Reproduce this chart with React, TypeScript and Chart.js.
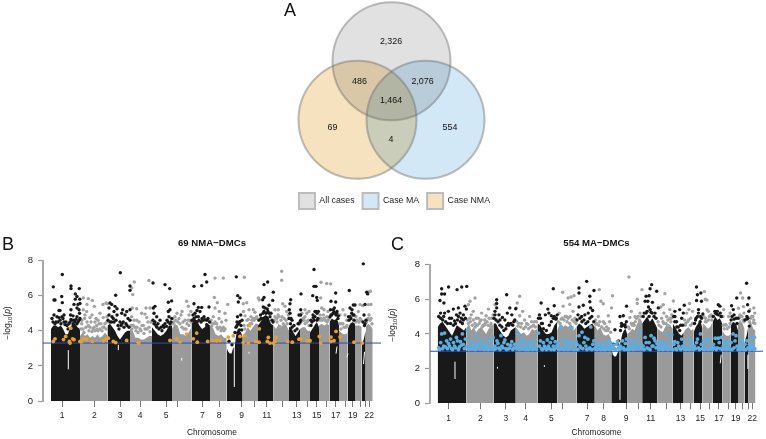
import React, { useEffect, useRef } from "react";
import { Chart, registerables } from "chart.js";

Chart.register(...registerables);

const FONT = "'Liberation Sans', Arial, sans-serif";

// ---------- Venn (panel A) ----------
const vennSets = ["All cases", "Case MA", "Case NMA"];
const vennCentreX = [391.5, 425.5, 357.5];
const vennCentreY = [62, 121, 121];
const vennFills = ["#e1e1e1", "#d2e8f7", "#f6e2bf"];
const vennCounts = ["2,326", "486", "2,076", "1,464", "69", "554", "4"];
const vennCountX = [391, 359.5, 422.5, 391, 332.5, 450, 391];
const vennCountY = [42.5, 82, 82, 102, 129, 129, 141.5];

// ---------- Manhattan shared ----------
const chromStarts = [0, 29, 56.5, 79, 101, 121, 140.5, 159, 175.7, 191.7, 207, 222.5, 238, 249, 259, 268, 278.5, 288, 296.7, 304, 310.7, 314.7, 321.7];
const chromTicks = [11, 43.3, 69, 89, 115, 126.3, 151.3, 168, 190.7, 203, 215.7, 231.7, 245.7, 256.3, 265.7, 275, 284.7, 294, 301.7, 309, 314.7, 318.3];
const chromLabels = ["1", "2", "3", "4", "5", "", "7", "8", "9", "", "11", "", "13", "", "15", "", "17", "", "19", "", "", "22"];

// ---------- Panel B ----------
const bThreshold = 3.3;
const bEnvelope = [
  [4.1, 4.3, 4.3, 4.2, 4.3, 4.1, 3.8, 3.8, 4.2, 4.4, 4.4, 4.2, 4.1],
  [3.7, 3.9, 3.7, 3.8, 3.6, 3.7, 3.6, 3.8, 3.6, 3.7, 3.9, 3.7],
  [4.3, 4.4, 4.2, 4.0, 3.7, 3.5, 3.7, 3.9, 4.0, 4.0],
  [4.1, 4.0, 3.6, 3.6, 3.5, 3.5, 3.6, 3.7, 3.7],
  [4.2, 4.0, 3.8, 3.7, 3.8, 4.0, 4.3, 4.3],
  [4.1, 4.4, 4.3, 3.8, 3.8, 3.7, 3.9, 4.2],
  [4.4, 4.7, 4.6, 4.3, 4.1, 4.2, 4.4, 4.3],
  [4.3, 4.2, 3.8, 3.7, 3.8, 3.6, 3.6],
  [3.0, 2.8, 2.7, 2.7, 3.0, 3.1, 3.8, 4.1, 4.0, 3.9, 3.6],
  [3.7, 3.9, 4.2, 4.0, 4.2, 4.4, 4.4],
  [4.3, 4.5, 4.8, 4.9, 4.8, 4.4, 4.3],
  [4.3, 4.1, 4.4, 4.2, 4.4, 4.3, 4.0],
  [4.2, 4.2, 3.9, 3.7, 3.9, 4.1],
  [4.1, 4.2, 4.2, 4.0, 4.0],
  [3.9, 4.1, 4.3, 4.5, 4.2],
  [4.3, 4.4, 4.3, 4.4, 4.3],
  [4.5, 4.7, 4.6, 4.7, 4.4],
  [4.0, 3.9, 3.8, 3.8, 3.9],
  [4.1, 4.4, 4.5, 4.4],
  [4.3, 4.3, 4.3, 4.2],
  [3.2, 3.5, 4.0],
  [4.2, 4.4, 4.3, 4.1],
];
const bBlackDots = [
  2.3,6.5, 11.3,7.2, 3,5.75, 4,5.75, 10.7,5.95, 11.3,5.6, 20,6.55, 20,6.4, 28.3,6.4, 24.3,6.1, 26,5.95, 28.8,5.8, 24.3,5.8, 23,5.5, 29,5.55, 27,5.5, 28,5.2, 26,5.3, 8,5.15, 9,5.15, 6,4.8, 8,4.75, 11,4.8, 20,5.2, 19.5,4.9, 22,4.85, 23,4.6, 25,4.65, 28.5,5, 5,4.5, 13,4.5, 16,4.3, 22,4.4, 2,4.5, 17,4.1, 14,4.35, 20,4.65, 26,4.8, 27,4.5,
  69.3,7.3, 64.7,6.02, 59,5.58, 64,5.39, 60.7,5.5, 66,5.25, 71.7,5.2, 75.7,5.1, 79,5.2, 70.7,5, 66,4.9, 62.3,4.7, 60.7,4.5, 79,4.6, 72.3,4.5, 75,4.4, 69,4.5, 63,5.1, 58,5.3, 74,4.9, 77,4.7, 79,6.55, 79,6.3,
  102,6.72, 114,6.63, 118.7,6.4, 120.6,5.7, 117.3,5.62, 104,5.39, 102.3,5.3, 119,5.2, 117.3,5.1, 105.7,4.8, 109,4.6, 120.7,4.7, 104,4.5, 112.3,4.3, 115.7,4.25, 107,4.4, 103,5, 118,4.8, 110,4.2,
  143,6.53, 154,7.2, 150.7,6.57, 155.7,6.78, 143,5.54, 158,5.35, 147.3,5.33, 150.7,5.33, 144,5, 154,4.63, 149,5.1, 147.3,4.8, 155.7,4.34, 158.6,4.5, 142,4.9, 152,4.6, 146,5.15,
  185.3,7.07, 186.7,6, 189,5.87, 187.3,5.64, 189.7,4.9, 189,4.53, 187.3,4.44, 188.3,4.05, 190.7,4.05, 186,4.3, 184,3.9, 178,3.4, 181,3.2, 186.5,4.8, 191,4.6,
  213,6.63, 216.7,6.78, 222.3,6.2, 213,5.9, 211.7,5.77, 221.7,5.73, 212.3,5.35, 216.3,5.24, 215,5, 218,5.45, 209.5,4.9, 220,5, 211,4.7,
  250,6.1, 239.7,5.77, 239,5.54, 238.3,5.2, 239,5, 249.7,5.2, 249.7,4.9, 249.7,4.6, 241,4.6, 243,4.3, 247,4.4, 240,4.7, 248,4.9,
  263,7.49, 263,6.53, 265,6.53, 261.7,6, 265.7,5.9, 266.3,5.73, 265,5.1, 267.3,5.1, 262.3,4.75, 264,4.8, 260,4.3, 266,4.6, 261,4.5,
  284.7,6.15, 280,5.68, 284.7,5.64, 282.3,5.2, 283.3,5.3, 285.7,5, 280.7,4.9, 287.3,4.85, 279.5,5.2, 283,5.05,
  298.3,6.29, 302.3,5.47, 304,5.47, 299,5.3, 300.7,5, 297.5,4.8, 303,4.9, 301,5.2,
  312.3,7.81, 315.7,6.19, 316.7,6.1, 314,5.5, 313,4.9, 315,4.6, 313.5,4.3,
];
const bBlackStipple = [
  1,4.7, 3,4.9, 4,4.4, 7,4.5, 9,4.6, 10,4.4, 12,4.7, 13,4.9, 15,4.5, 18,4.4, 19,4.5, 21,4.6, 24,4.5, 26,4.4, 28,4.6, 29,4.7,
  57,4.6, 58,4.9, 59,4.5, 61,4.8, 63,4.5, 65,4.6, 67,4.3, 68,4.1, 70,4.3, 71,4.4, 73,4.2, 76,4.3, 78,4.2,
  102,4.6, 103,4.4, 105,4.3, 106,4.2, 108,4.1, 111,4, 113,4.2, 114,4.4, 116,4.6, 117,4.5, 119,4.4, 120,4.5,
  141,4.6, 143,4.7, 145,4.8, 146,4.5, 148,4.6, 150,4.5, 151,4.7, 153,4.8, 156,4.6, 157,4.7,
  185,4.2, 186,4.5, 188,4.4, 190,4.3, 187,3.9,
  208,4.6, 210,4.7, 212,5, 213,5.1, 214,5.3, 217,5.1, 218,5, 219,4.8, 221,4.6, 222,4.5,
  238,4.7, 239.5,4.4, 241,4.2, 244,4, 246,4.1, 248,4.4, 249,4.5,
  260,4.6, 262,4.9, 263,4.6, 264,5.1, 266,5, 267,4.7,
  279,4.8, 280,4.9, 282,5, 284,5, 285,4.9, 286,5.1, 287,4.7,
  298,4.6, 299,4.8, 300,4.7, 302,4.9, 303,4.6,
  312,4.5, 314,4.4,
];
const bGrayDots = [
  32.3,5.87, 37.3,5.83, 41.3,5.73, 32.3,5.2, 43.3,5.39, 55,5.58, 56.3,5.54, 35.7,5.1, 49,5, 33.7,4.7, 39,4.75, 44,4.5, 52.3,4.75, 45.7,4.3, 49,4.1, 55.7,4.5, 37.3,4.3, 42,4.1, 30.7,4.4, 34,4.9, 47,4.6, 53,4.2, 41,4.9, 36,5.5, 52,5.5,
  80.7,6.44, 83.3,6.78, 81.7,6.06, 81.3,5.3, 85.7,5.25, 90.7,5, 80.7,4.8, 95.7,4.75, 85.7,4.6, 92.3,4.3, 82.3,4.3, 89,4.1, 98,6.86, 95,5.3, 99,5.3, 94,4.95, 97,4.5, 84,4.2,
  135.7,5.68, 137.3,5.4, 138,4.9, 131,5.1, 124,4.8, 128,4.7, 134,4.6, 140,5.1, 122,4.4, 126,5, 130,4.9, 136,4.4,
  164,7, 172.3,7, 163.3,5.9, 166.3,5.6, 176.7,5.5, 168.3,5.1, 164,5.3, 174,5, 162.3,4.8, 170.7,4.5, 165.7,4.4, 160.7,4.25, 172.3,4.2, 168,4.7, 175,4.6,
  193.3,7.05, 195.7,5.6, 192.3,5.54, 202.3,5.2, 207.3,5.87, 208.3,5.75, 194,4.85, 197.3,4.65, 204,5.05, 205.7,4.8, 200.7,4.4, 198,5.2, 192.5,5.1, 202,4.7,
  230.7,7.39, 230.7,6.88, 231.7,5.54, 227.3,5.2, 224,5.2, 225.7,4.7, 235.7,5.1, 237.3,4.9, 232.3,4.4, 229,4.25, 227,4.9, 234,5.4,
  254,5.2, 255.7,5, 252.3,4.7, 257.3,4.6, 254,4.4, 251,5, 258,5.1,
  269.7,5.87, 270,6.76, 275.7,6.69, 279.7,6.67, 270.7,5.3, 272.3,4.9, 275.7,4.8, 269,4.6, 277,5.1, 273,5.2,
  294,4.9, 290.7,4.4, 295.7,4.6, 289,4.9, 292,5.2,
  309,5.49, 311.7,5.43, 307.3,5.1, 305,4.8, 309,4.7,
  319.3,6.25, 317,6.2, 317.3,5.49, 320,5.5, 318,4.9, 320,4.7,
];
const bGrayStipple = [
  30,4.1, 31,4.6, 32,4.1, 33,3.9, 35,4.2, 36,4.5, 38,4, 39,4.2, 40,4.5, 41,3.95, 43,4.2, 44,4, 45,4.7, 46,4.1, 47,4, 48,4.4, 50,4.4, 51,4, 52,4.2, 54,4.4, 55,4.1, 56,4.8,
  80,4.3, 81,4.1, 83,4.6, 85,4, 86,4.2, 87,3.9, 88,4.5, 90,4, 91,4.3, 93,3.85, 94,4.1, 96,4.1, 98,4.2, 99,3.95, 100,4.5,
  122,4.7, 123,4.5, 125,4.6, 127,4.5, 129,4.4, 131,4.2, 132,4.5, 133,4.1, 135,4.1, 137,4.6, 138,4.3, 139,4.6, 140,4.5,
  160,4.6, 161,4.4, 163,4.4, 164,4.5, 166,4.2, 167,4.1, 169,4.2, 170,4, 171,4.1, 173,4, 174,4.1,
  193,4.3, 194,4.1, 196,4.6, 197,4.3, 199,4.4, 200,4.8, 201,4.6, 203,4.6, 204,4.7, 206,4.7,
  223,4.6, 224,4.8, 226,4.5, 228,4.8, 230,4.6, 231,4.8, 233,4.7, 235,4.6, 236,4.4,
  250,4.5, 251,4.6, 253,4.6, 254,4.8, 256,4.5, 258,4.3,
  269,4.9, 270,4.7, 271,4.6, 273,4.7, 274,4.6, 276,4.5, 277,4.6, 278,4.7,
  289,4.4, 290,4.1, 292,4.4, 293,4.2, 295,4.2, 296,4.3,
  305,4.5, 306,4.6, 308,4.5, 310,4.6,
  315.5,4.5, 317,4.7, 319,4.6, 321,4.4,
];
const bHitDots = [
  4,3.54, 2.3,3.39, 14.7,3.68, 12.5,3.5, 19.7,4.15, 18.3,3.39, 19,3.3, 21.7,3.54, 23,3.49, 29,3.39, 30.5,3.37, 32.3,3.54, 35.7,3.52, 41.3,3.39, 52.3,3.43, 55,3.52, 57.3,3.58, 62.3,3.39, 64.7,3.33, 75.7,3.45, 87.3,3.33, 88,3.3, 119,3.45,
  125.7,3.54, 129,3.37, 135.7,3.81, 142.3,3.54, 145.7,3.87, 146.3,3.35, 156.7,3.39, 161.7,3.45, 165.7,3.43, 169,3.45, 177.3,3.64, 182.3,3.71, 189,3.68, 193.3,3.71, 192.3,3.33, 197.3,3.3, 198.3,4.29, 204.7,3.39, 208,3.35, 208.3,4.11, 217.3,3.62, 216.3,3.39, 219,3.3, 222.3,3.3, 224,3.39, 225,3.62,
  236.7,3.39, 241.3,3.35, 248,3.52, 250,3.54, 256.3,3.43, 259,3.43, 268.3,3.68, 269.7,3.3, 280,3.64, 280,3.39, 283,3.43, 285,3.96, 289,3.64, 303,3.35, 311.3,3.3,
];
const bGaps = [17.3, 1.8, 17.3, 2.9, null, null, 67.3, 2.9, 67.3, 3.2, null, null, 183.3, 0.8, 183.3, 3.3, null, null, 312.5, 2.1, 313.5, 2.8, null, null, 130.7, 2.3, 130.7, 2.45, null, null, 198, 2.7, 198, 2.8, null, null, 285, 2.7, 286, 3.1, null, null, 296, 2.5, 297, 2.7];

// ---------- Panel C ----------
const cThreshold = 3;
const cEnvelope = [
  [4.4, 4.6, 4.7, 4.5, 4.3, 4.1, 3.9, 4.2, 4.5, 4.4, 4.3, 4.2, 4.4],
  [4.3, 4.6, 4.2, 4.4, 4.1, 4.3, 4.4, 4.2, 4.0, 4.3, 4.4, 4.6],
  [4.6, 4.6, 4.3, 4.1, 3.9, 3.8, 3.9, 4.2, 4.3, 4.4],
  [4.4, 4.2, 4.0, 4.1, 3.9, 4.0, 4.3, 4.2, 4.3],
  [4.6, 4.5, 4.2, 4.0, 4.0, 4.1, 4.5, 4.7],
  [4.2, 4.6, 4.4, 4.5, 4.4, 4.6, 4.2, 4.4],
  [4.4, 4.6, 4.5, 4.3, 4.4, 4.5, 4.6, 4.4],
  [4.5, 4.2, 4.4, 4.0, 3.9, 4.0, 3.7],
  [3.2, 2.8, 2.7, 2.7, 2.9, 3.1, 3.6, 4.0, 4.2, 4.3, 4.0],
  [4.0, 4.1, 4.3, 4.2, 4.6, 4.8, 4.6],
  [4.6, 4.8, 5.0, 4.7, 4.9, 4.6, 4.3],
  [4.3, 4.2, 4.1, 4.4, 4.6, 4.5, 4.3],
  [4.6, 4.4, 4.2, 4.0, 3.9, 4.1],
  [4.1, 4.3, 4.4, 4.2, 4.3],
  [4.1, 4.4, 4.6, 4.8, 4.3],
  [4.6, 4.5, 4.3, 4.4, 4.7],
  [4.7, 5.0, 4.8, 4.9, 4.6],
  [4.2, 4.0, 3.9, 3.9, 4.0],
  [4.5, 4.7, 4.6, 4.2],
  [4.6, 4.8, 4.6, 4.3],
  [3.5, 3.9, 4.5],
  [4.6, 4.7, 4.3, 4.2],
];
const cBlackDots = [
  4,6.6, 11,6.7, 19.6,6.55, 24.3,6.7, 29.4,6.74, 4,6.3, 7,6.3, 2.3,5.93, 6.3,5.78, 10.8,5.3, 15.8,5.43, 20.9,5.5, 27.6,5.6, 29,5.43, 2.9,5.2, 7,5.2, 22.6,5.2, 19,5.1, 26,5.1, 12,4.9, 17,4.75, 24,4.9,
  69.8,6.26, 59.7,5.97, 59.7,5.75, 59.7,5.5, 58,5.3, 63,4.8, 73,5.5, 70.5,5.2, 75,5.1, 79,5.45, 65.5,4.95, 71.5,4.6, 77,4.7, 62,5.1, 68,4.8,
  117,6.6, 104.7,5.78, 111.5,5.43, 118,5.62, 104,4.9, 109,5.1, 121,5.1, 112.5,5.2, 106,4.6, 119.5,4.85, 115,5.05,
  150.8,7.03, 143,6.65, 143,6.36, 158.2,6.5, 154,6.17, 154,5.85, 147.4,5.65, 143,5.55, 154.8,5.5, 152.4,5.2, 145.7,5, 156.8,5.35, 149,5.1,
  191.2,5.6, 187.9,5.05, 184.5,5, 189.6,4.53, 186,4.44, 179.4,4.24, 183,3.6, 178,3.4,
  216.6,6.84, 215,6.6, 221.7,6.46, 214,6.2, 211,6.17, 210,5.88, 212.7,5.88, 217.4,5.82, 223.3,5.5, 213.4,5.55, 216,5.25, 220,5.2,
  249.6,5.65, 240.1,5.3, 245,5.4, 248.6,5.2, 240.1,5, 241.8,4.7, 247,4.9, 243.5,4.4,
  262,6.7, 262.9,6.26, 266.4,6.36, 262,5.93, 267,5.88, 264,5.4, 268.4,5.15, 261.5,4.9, 265.7,4.7,
  284,5.68, 285.7,5.6, 280.6,5.3, 282.3,5.15, 287,5, 280.6,4.7, 285.7,4.45,
  302.7,6.07, 297.5,5.62, 299.2,5.4, 304,4.9, 300,4.85, 300.9,4.45,
  312.7,6.92, 315,6.07, 313.7,5.68, 315,5.3, 312.7,4.85, 315.4,4.45,
];
const cBlackStipple = [
  1,5, 3,4.9, 5,4.8, 6,5, 8,4.7, 10,4.6, 13,4.6, 14,4.9, 16,4.5, 18,4.6, 20,4.8, 21,5, 23,4.7, 25,4.6, 26,4.8, 28,4.9,
  57,4.9, 58,5.1, 59,4.8, 61,4.7, 63,4.5, 65,4.4, 67,4.2, 69,4.3, 70,4.5, 72,4.5, 74,4.6, 76,4.5, 78,4.8,
  102,4.9, 103,5.1, 105,4.6, 107,4.3, 110,4.2, 113,4.5, 115,4.7, 117,4.9, 118,5, 120,4.9,
  141,4.8, 142,5.1, 144,4.9, 146,4.7, 148,4.8, 150,4.6, 152,4.7, 154,4.9, 156,5, 158,4.7,
  182,3.4, 185,4.2, 186,4.6, 188,4.5, 190,4.4, 191,4.7,
  208,5, 209,5.2, 211,5.2, 212,5.3, 214,5, 215,5.4, 217,5.2, 219,5, 221,4.9,
  239,5, 240,4.7, 242,4.4, 245,4.2, 246,4.5, 248,4.5,
  260,4.6, 261,4.8, 263,5, 264,5.2, 266,5, 267,4.9,
  279,5, 281,5.2, 283,5.3, 284,5.1, 286,5.2, 287,5,
  297,4.8, 298,5, 300,5.1, 302,4.9, 303,4.6,
  311,4.8, 313,5, 314,4.9,
];
const cGrayDots = [
  37.8,6.07, 32.7,5.88, 31,5.68, 36,5.3, 44.5,5.2, 51.3,5.43, 58,5.68, 41,4.9, 47.6,4.8, 54.4,4.9, 32.7,4.9, 37.8,4.6, 46,4.5, 53,4.45, 43,4.75, 56,5.1, 34,5.1, 49,5.05,
  83,6.17, 80.5,5.78, 79.6,5.5, 83,5.05, 88,4.8, 81.2,4.45, 91.3,4.55, 96.3,4.45, 86,5.3, 93,5, 98,4.7,
  126.5,6.4, 135,6.13, 132,6.07, 138,6.2, 127,5.6, 133.7,5.7, 130.3,5, 137,5.3, 125,4.85, 133.7,4.6, 123,5.2, 139,4.9,
  163.6,6.55, 177,6.2, 165.3,5.88, 167.6,5.74, 176,5.5, 172.7,5.05, 162.6,5, 167.6,4.7, 160,4.55, 171,4.4, 174,4.7,
  193.6,7.28, 199.8,5, 202,6, 202,5.75, 206.8,6.55, 194.6,4.95, 204.8,5.2, 198,4.6, 196,5.3, 205,4.7,
  230,6.32, 238.5,5.9, 228.3,5.68, 226,5.55, 231.7,5, 235,5.4, 226.7,4.9, 233.4,4.45, 229,5.2, 236.5,4.9,
  254.3,5.4, 252,5.2, 256,4.9, 250.6,4.5, 258,5.3, 255,5.75,
  270,6.44, 270.9,6, 272.6,5.95, 272.6,5.4, 276,5.05, 270.9,4.7, 277.4,4.8, 274,5.3,
  289.5,5.4, 294.5,5, 291,4.55, 296,5.2, 288.7,5,
  306.6,6.36, 308.7,6.07, 304.5,5.48, 309.5,5.57, 306,5, 310,5.2,
  320,5.5, 316,5.4, 317.6,5, 319.3,4.65, 321,5.2,
];
const cGrayStipple = [
  30,4.8, 31,4.6, 33,4.7, 35,4.5, 36,4.8, 38,4.4, 39,4.9, 40,4.5, 42,4.6, 44,4.8, 45,4.4, 47,4.5, 48,4.6, 50,4.7, 51,4.5, 52,4.9, 54,4.6, 55,4.4, 56,4.9,
  80,4.7, 82,4.6, 84,4.4, 85,4.6, 87,4.3, 89,4.4, 90,4.6, 92,4.3, 94,4.4, 95,4.7, 97,4.5, 99,4.4, 100,4.7,
  122,4.7, 124,4.6, 126,4.9, 128,4.8, 129,5, 131,4.7, 132,4.9, 134,5, 136,4.8, 138,4.7, 140,4.6,
  160,4.8, 161,4.6, 163,4.5, 164,4.7, 166,4.4, 168,4.3, 169,4.6, 170,4.2, 172,4.2, 173,4.3, 175,4.1,
  193,4.4, 194,4.3, 196,4.6, 197,4.5, 199,4.5, 200,4.7, 201,4.9, 203,5, 204,4.8, 206,5,
  223,4.7, 224,4.5, 226,4.4, 228,4.7, 229,4.6, 231,4.6, 233,4.8, 235,4.9, 236,4.7, 237,5.1,
  250,4.8, 251,4.6, 253,4.7, 254,4.8, 256,4.5, 258,4.6,
  269,5, 271,4.9, 272,4.7, 274,4.8, 275,5, 277,5.1, 278,5,
  289,4.5, 290,4.3, 292,4.5, 293,4.3, 295,4.4, 296,4.6,
  305,4.9, 306,5.1, 308,5, 309,4.8, 310,4.7,
  315.5,4.7, 317,4.9, 319,5, 320,4.8, 321,4.6,
];
const cHitDots = [
  1,3.2, 3,3.5, 4,4, 6,3.3, 7,4.05, 9,3.6, 10,3.15, 12,3.3, 14,3.15, 16,3.5, 18,3.2, 20,3.6, 22,3.25, 24,3.35, 25,4, 27,3.15, 28,3.7, 29,3.25,
  30,4.2, 31,3.2, 33,3.5, 35,3.15, 37,3.35, 39,3.9, 40,3.2, 42,3.6, 44,3.2, 46,3.4, 48,3.15, 50,3.7, 52,3.3, 54,3.5, 55,3.15, 56,3.8,
  58,3.3, 60,3.6, 62,3.2, 64,3.9, 65,3.3, 67,3.5, 69,3.15, 71,3.4, 73,3.2, 75,3.55, 77,3.2, 78,3.4,
  81,4, 82,3.3, 84,3.5, 86,3.15, 88,3.3, 91,3.2, 93,3.5, 95,3.15, 97,3.4, 99,3.2,
  102,4.05, 103,3.3, 105,3.15, 107,3.5, 109,3.2, 112,3.3, 114,3.5, 116,3.75, 117,3.3, 119,3.55, 120,3.2,
  122,3.5, 124,3.2, 125,4.4, 127,3.7, 129,3.3, 131,3.5, 133,3.2, 135,3.3, 136,4.35, 137,3.5, 139,3.2,
  141,3.4, 143,3.9, 145,3.2, 146,4.1, 148,3.5, 150,3.3, 152,3.7, 154,3.2, 155,4.4, 157,3.4, 158,3.6,
  160,3.2, 162,3.35, 164,3.15, 166,3.3, 169,3.45, 171,3.2, 173,3.3, 175,3.5,
  177,3.3, 179,3.15, 181,3.4, 183,3.2, 185,3.3, 187,3.6, 188,3.2, 190,3.45, 191,3.7,
  193,3.25, 195,3.5, 197,3.2, 199,3.3, 201,3.15, 203,3.7, 205,4.1, 206,3.4,
  208,3.3, 210,3.8, 212,3.2, 214,3.5, 216,3.9, 218,3.3, 220,3.6, 221,3.2,
  223,3.4, 225,3.15, 227,3.3, 229,3.5, 231,3.2, 232,4, 234,3.3, 236,3.15, 237,3.95,
  239,3.4, 241,3.15, 243,3.5, 245,3.2, 247,3.7, 248,3.3,
  250,3.5, 252,3.2, 254,3.7, 256,3.35, 258,3.15,
  260,3.3, 262,3.5, 264,3.2, 266,4, 267,3.4,
  269,3.6, 271,3.2, 273,3.45, 275,3.7, 277,3.2,
  279,3.4, 281,3.75, 283,3.2, 285,3.5, 287,3.8,
  289,3.3, 291,3.15, 293,3.4, 295,3.2,
  297,3.5, 299,4, 301,3.6, 302,3.9, 303,3.3,
  305,3.3, 307,3.5, 309,3.2,
  311,3.4, 313,3.6, 314,3.2,
  315.5,3.4, 317,3.7, 319,3.3, 320.5,3.8, 321,3.15,
];
const cHitDotsLow = [
  2,3.1, 5,3.15, 8,3.25, 11,3.45, 13,3.7, 15,3.1, 17,3.3, 19,3.8, 21,3.1, 23,3.55, 26,3.4, 32,3.1, 34,3.6, 36,3.25, 38,3.1, 41,3.4, 43,3.15, 45,3.55, 47,3.1, 49,3.3, 51,3.1, 53,3.15, 57,3.1, 59,3.15, 61,3.45, 63,3.1, 66,3.2, 68,3.65, 70,3.1, 72,3.15, 74,3.35, 76,3.1, 80,3.2, 83,3.1, 85,3.7, 87,3.45, 89,3.1, 90,3.6, 92,3.1, 94,3.3, 96,3.1, 98,3.55, 100,3.1,
  104,3.6, 106,3.1, 108,3.3, 110,3.1, 111,3.65, 113,3.15, 115,3.1, 118,3.1, 121,3.35, 123,3.1, 126,3.15, 128,3.1, 130,3.6, 132,3.1, 134,3.55, 138,3.1, 140,3.55, 142,3.1, 144,3.3, 147,3.15, 149,3.8, 151,3.1, 153,3.15, 156,3.1, 159,3.15, 161,3.1, 163,3.5, 165,3.1, 167,3.2, 168,3.1, 170,3.1, 172,3.55, 174,3.1, 176,3.15, 178,3.35, 180,3.1, 182,3.55, 184,3.1, 186,3.15, 189,3.1,
  192,3.1, 194,3.1, 196,3.65, 198,3.1, 200,3.5, 202,3.3, 204,3.15, 207,3.15, 209,3.1, 211,3.5, 213,3.15, 215,3.1, 217,3.3, 219,3.75, 222,3.45, 224,3.1, 226,3.5, 228,3.1, 230,3.3, 233,3.1, 235,3.6, 238,3.1, 240,3.55, 242,3.1, 244,3.3, 246,3.1, 249,3.15, 251,3.1, 253,3.15, 255,3.1, 257,3.55, 259,3.1, 261,3.15, 263,3.7, 265,3.1, 268,3.15, 270,3.1, 272,3.7, 274,3.1, 276,3.15, 278,3.1,
  280,3.2, 282,3.1, 284,3.75, 286,3.15, 288,3.1, 290,3.55, 292,3.1, 294,3.6, 296,3.1, 298,3.1, 300,3.2, 304,3.1, 306,3.1, 308,3.65, 310,3.1, 312,3.1, 316,3.1, 318,3.2, 320,3.1,
];
const cGaps = [17.5, 1.4, 17.5, 2.4, null, null, 60.5, 2, 60.5, 2.1, null, null, 184.5, 0.2, 184.5, 3, null, null, 313.5, 2, 314, 2.8, null, null, 108, 2.1, 108, 2.2, null, null, 286, 2.3, 287, 2.8];

const pairs = (flat: (number | null)[]) => {
  const out: { x: number | null; y: number | null }[] = [];
  for (let i = 0; i < flat.length; i += 2) out.push({ x: flat[i], y: flat[i + 1] });
  return out;
};

const BLACK = "#191919";
const GRAY = "#9a9a9a";
const OUTLINE = "rgba(110,110,110,0.45)";

function buildVenn(canvas: HTMLCanvasElement) {
  const multiply = {
    id: "multiply",
    beforeDatasetDraw(chart: any, args: any) {
      chart.ctx.save();
      if (args.index < 3) chart.ctx.globalCompositeOperation = "multiply";
    },
    afterDatasetDraw(chart: any) {
      chart.ctx.restore();
    },
    afterDatasetsDraw(chart: any) {
      const { ctx, scales } = chart;
      ctx.save();
      ctx.fillStyle = "#111";
      ctx.font = `8.9px ${FONT}`;
      ctx.textAlign = "center";
      ctx.textBaseline = "middle";
      vennCounts.forEach((t, i) => ctx.fillText(t, scales.x.getPixelForValue(vennCountX[i]), scales.y.getPixelForValue(vennCountY[i])));
      ctx.font = `18px ${FONT}`;
      ctx.textAlign = "left";
      ctx.fillText("A", 284, 11);
      ctx.restore();
    },
  };
  const fills = vennSets.map((label, i) => ({
    label,
    data: [{ x: vennCentreX[i], y: vennCentreY[i], r: 59 }],
    backgroundColor: vennFills[i],
    borderWidth: 0,
    order: 2,
  }));
  const outlines = vennSets.map((_label, i) => ({
    label: "",
    data: [{ x: vennCentreX[i], y: vennCentreY[i], r: 59 }],
    backgroundColor: "rgba(0,0,0,0)",
    borderColor: OUTLINE,
    borderWidth: 2,
    order: 1,
  }));
  return new Chart(canvas, {
    type: "bubble",
    data: { datasets: [...fills, ...outlines] },
    options: {
      responsive: false,
      animation: false,
      events: [],
      layout: { padding: { left: 23 }, autoPadding: false },
      scales: {
        x: { type: "linear", min: 23, max: 766, display: false },
        y: { type: "linear", min: 0, max: 187, reverse: true, display: false },
      },
      plugins: {
        tooltip: { enabled: false },
        legend: {
          position: "bottom",
          labels: {
            boxWidth: 16,
            boxHeight: 16,
            padding: 8,
            color: "#222",
            font: { family: FONT, size: 8.8 },
            generateLabels: () =>
              vennSets.map((text, i) => ({
                text,
                datasetIndex: i,
                fillStyle: vennFills[i],
                strokeStyle: "#bcbcbc",
                lineWidth: 2,
                fontColor: "#222",
              })),
          },
        },
      },
    } as any,
    plugins: [multiply],
  });
}

type PanelCfg = {
  title: string;
  letter: string;
  letterX: number;
  threshold: number;
  envelope: number[][];
  black: number[];
  gray: number[];
  hits: number[];
  gaps: (number | null)[];
  hitColor: string;
  xMin: number;
  xMax: number;
  axisWidth: number;
  xAxisHeight: number;
  rightPad: number;
  titleBottom: number;
  yTitleY: number;
};

function buildManhattan(canvas: HTMLCanvasElement, cfg: PanelCfg) {
  const bands = cfg.envelope.map((vals, c) => {
    const a = chromStarts[c];
    const b = chromStarts[c + 1];
    return {
      data: vals.map((y, i) => ({ x: a + ((b - a) * i) / (vals.length - 1), y })),
      showLine: true,
      fill: "origin",
      pointRadius: 0,
      borderWidth: 0,
      tension: 0,
      borderColor: c % 2 ? GRAY : BLACK,
      backgroundColor: c % 2 ? GRAY : BLACK,
      order: 10,
    };
  });
  const dots = (flat: number[], color: string, r: number, order: number) => ({
    data: pairs(flat),
    pointRadius: r,
    pointBorderWidth: 0,
    backgroundColor: color,
    order,
  });
  const labels = {
    id: "panelText",
    afterDraw(chart: any) {
      const { ctx } = chart;
      ctx.save();
      ctx.fillStyle = "#111";
      ctx.font = `18px ${FONT}`;
      ctx.textBaseline = "middle";
      ctx.textAlign = "left";
      ctx.fillText(cfg.letter, cfg.letterX, 15);
      ctx.translate(8, cfg.yTitleY);
      ctx.rotate(-Math.PI / 2);
      ctx.fillStyle = "#222";
      const parts: [string, string, number][] = [
        ["\u2212log", `8.5px ${FONT}`, 0],
        ["10", `6px ${FONT}`, 2],
        ["(", `8.5px ${FONT}`, 0],
        ["p", `italic 8.5px ${FONT}`, 0],
        [")", `8.5px ${FONT}`, 0],
      ];
      let total = 0;
      parts.forEach(([t, f]) => {
        ctx.font = f;
        total += ctx.measureText(t).width;
      });
      let x = -total / 2;
      parts.forEach(([t, f, dy]) => {
        ctx.font = f;
        ctx.fillText(t, x, dy);
        x += ctx.measureText(t).width;
      });
      ctx.restore();
    },
  };
  return new Chart(canvas, {
    type: "scatter",
    data: {
      datasets: [
        dots(cfg.hits, cfg.hitColor, 1.9, 1),
        {
          data: [{ x: cfg.xMin, y: cfg.threshold }, { x: cfg.xMax, y: cfg.threshold }],
          showLine: true,
          pointRadius: 0,
          borderColor: "#3348c4",
          borderWidth: 1,
          order: 2,
        },
        dots(cfg.black, BLACK, 1.7, 3),
        dots(cfg.gray, "#a2a2a2", 1.7, 4),
        {
          data: pairs(cfg.gaps),
          showLine: true,
          spanGaps: false,
          pointRadius: 0,
          borderColor: "#ffffff",
          borderWidth: 1,
          order: 5,
        },
        ...bands,
      ],
    },
    options: {
      responsive: false,
      animation: false,
      events: [],
      layout: { padding: { right: cfg.rightPad }, autoPadding: false },
      scales: {
        x: {
          type: "linear",
          min: cfg.xMin,
          max: cfg.xMax,
          afterFit: (s: any) => { s.height = cfg.xAxisHeight; },
          afterBuildTicks: (s: any) => { s.ticks = chromTicks.map((value) => ({ value })); },
          border: { display: false },
          grid: { drawOnChartArea: false, drawTicks: true, tickLength: 6, tickColor: "#777", tickWidth: 1 },
          ticks: {
            autoSkip: false,
            maxRotation: 0,
            minRotation: 0,
            padding: 4,
            color: "#222",
            font: { family: FONT, size: 8.5 },
            callback: (_v: any, i: number) => chromLabels[i],
          },
          title: { display: true, text: "Chromosome", color: "#222", font: { family: FONT, size: 8.3 }, padding: { top: 0, bottom: 1 } },
        },
        y: {
          type: "linear",
          min: 0,
          max: 8,
          afterFit: (s: any) => { s.width = cfg.axisWidth; },
          border: { color: "#a8a8a8", width: 2 },
          grid: { drawOnChartArea: false, drawTicks: true, tickLength: 5, tickColor: "#999", tickWidth: 1.2 },
          ticks: { stepSize: 2, padding: 5, color: "#222", font: { family: FONT, size: 9.5 } },
        },
      },
      plugins: {
        tooltip: { enabled: false },
        legend: { display: false },
        title: {
          display: true,
          text: cfg.title,
          fullSize: false,
          color: "#111",
          font: { family: FONT, size: 9.6, weight: "bold" },
          padding: { top: 8, bottom: cfg.titleBottom },
        },
      },
    } as any,
    plugins: [labels],
  });
}

export default function App() {
  const a = useRef<HTMLCanvasElement>(null);
  const b = useRef<HTMLCanvasElement>(null);
  const c = useRef<HTMLCanvasElement>(null);
  useEffect(() => {
    const charts = [
      buildVenn(a.current!),
      buildManhattan(b.current!, {
        title: "69 NMA\u2212DMCs",
        letter: "B",
        letterX: 2,
        threshold: bThreshold,
        envelope: bEnvelope,
        black: [...bBlackDots, ...bBlackStipple],
        gray: [...bGrayDots, ...bGrayStipple],
        hits: bHitDots,
        gaps: bGaps,
        hitColor: "#e5a12f",
        xMin: -8,
        xMax: 330,
        axisWidth: 43,
        xAxisHeight: 38,
        rightPad: 4,
        titleBottom: 11,
        yTitleY: 93,
      }),
      buildManhattan(c.current!, {
        title: "554 MA\u2212DMCs",
        letter: "C",
        letterX: 6,
        threshold: cThreshold,
        envelope: cEnvelope,
        black: [...cBlackDots, ...cBlackStipple],
        gray: [...cGrayDots, ...cGrayStipple],
        hits: [...cHitDots, ...cHitDotsLow],
        gaps: cGaps,
        hitColor: "#5cade2",
        xMin: -7.8,
        xMax: 329.3,
        axisWidth: 45,
        xAxisHeight: 35.7,
        rightPad: 3,
        titleBottom: 15,
        yTitleY: 95,
      }),
    ];
    return () => charts.forEach((ch) => ch.destroy());
  }, []);
  return (
    <div style={{ position: "fixed", left: 0, top: 0, width: 766, height: 439, background: "#fff", overflow: "hidden" }}>
      <canvas ref={a} width={766} height={219} style={{ position: "absolute", left: 0, top: 0 }} />
      <canvas ref={b} width={385} height={209} style={{ position: "absolute", left: 0, top: 230 }} />
      <canvas ref={c} width={381} height={209} style={{ position: "absolute", left: 385, top: 230 }} />
    </div>
  );
}
